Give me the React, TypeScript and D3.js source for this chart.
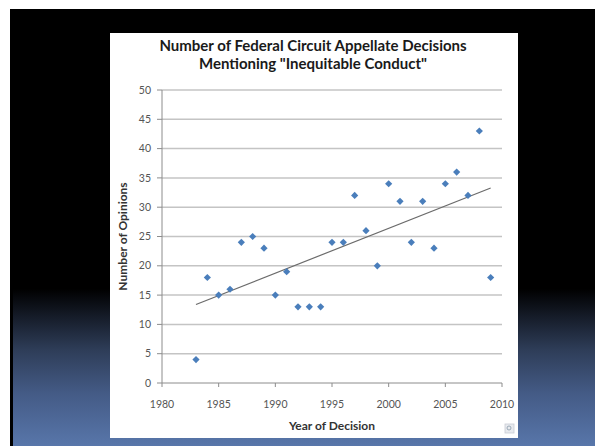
import React from "react";
import * as d3 from "d3";

const years = [1983, 1984, 1985, 1986, 1987, 1988, 1989, 1990, 1991, 1992, 1993, 1994, 1995, 1996, 1997, 1998, 1999, 2000, 2001, 2002, 2003, 2004, 2005, 2006, 2007, 2008, 2009];
const opinions = [4, 18, 15, 16, 24, 25, 23, 15, 19, 13, 13, 13, 24, 24, 32, 26, 20, 34, 31, 24, 31, 23, 34, 36, 32, 43, 18];
const xTicks = [1980, 1985, 1990, 1995, 2000, 2005, 2010];
const yTicks = [0, 5, 10, 15, 20, 25, 30, 35, 40, 45, 50];
const titleLines = ["Number of Federal Circuit Appellate Decisions", "Mentioning \"Inequitable Conduct\""];
const xTitle = "Year of Decision";
const yTitle = "Number of Opinions";

export default function App() {
  const W = 595, H = 446;
  const left = 162, right = 502, top = 90, bottom = 383;
  const x = d3.scaleLinear().domain([1980, 2010]).range([left, right]);
  const y = d3.scaleLinear().domain([0, 50]).range([bottom, top]);

  const mx = d3.mean(years)!;
  const my = d3.mean(opinions)!;
  let num = 0, den = 0;
  years.forEach((yr, i) => { num += (yr - mx) * (opinions[i] - my); den += (yr - mx) ** 2; });
  const slope = num / den;
  const icpt = my - slope * mx;
  const x0 = d3.min(years)!, x1 = d3.max(years)!;
  const trend = d3.line<number>().x(d => x(d)).y(d => y(icpt + slope * d))([x0, x1]);

  const diamond = d3.symbol().type(d3.symbolSquare).size(26)()!;
  const font = "Lato, 'Open Sans', sans-serif";

  return (
    <svg width={W} height={H} style={{ position: "absolute", left: 0, top: 0, display: "block" }}>
      <defs>
        <linearGradient id="bg" x1="0" y1="0" x2="0" y2="1">
          <stop offset="0" stopColor="#000" />
          <stop offset="0.64" stopColor="#000" />
          <stop offset="0.70" stopColor="#141a26" />
          <stop offset="0.78" stopColor="#2e3d58" />
          <stop offset="0.88" stopColor="#445b86" />
          <stop offset="1" stopColor="#5876aa" />
        </linearGradient>
      </defs>
      <rect x={0} y={0} width={W} height={H} fill="#fff" />
      <rect x={10} y={9} width={W - 10} height={H - 9} fill="url(#bg)" />
      <rect x={10} y={9} width={3} height={H - 9} fill="#000" />
      <rect x={110} y={33} width={408} height={405} fill="#fff" />

      {titleLines.map((t, i) => (
        <text key={i} x={313} y={51 + i * 18} textAnchor="middle" fontFamily={font} fontWeight="bold" fontSize={15} fill="#1a1a1a">{t}</text>
      ))}

      {yTicks.filter(v => v > 0).map(v => (
        <line key={"g" + v} x1={left} x2={right} y1={y(v)} y2={y(v)} stroke="#c4c4c4" strokeWidth={1.5} />
      ))}
      <line x1={left} x2={left} y1={top} y2={bottom} stroke="#8c8c8c" strokeWidth={1} />
      <line x1={left} x2={right} y1={bottom} y2={bottom} stroke="#8c8c8c" strokeWidth={1} />
      {yTicks.map(v => (
        <g key={"y" + v}>
          <line x1={left - 5} x2={left} y1={y(v)} y2={y(v)} stroke="#8c8c8c" />
          <text x={left - 11} y={y(v)} dy="0.35em" textAnchor="end" fontFamily={font} fontSize={10.5} fill="#555">{v}</text>
        </g>
      ))}
      {xTicks.map(v => (
        <g key={"x" + v}>
          <line x1={x(v)} x2={x(v)} y1={bottom} y2={bottom + 4} stroke="#8c8c8c" />
          <text x={x(v)} y={404} dy="0.35em" textAnchor="middle" fontFamily={font} fontSize={10.5} fill="#555">{v}</text>
        </g>
      ))}
      <text x={(left + right) / 2} y={426} dy="0.35em" textAnchor="middle" fontFamily={font} fontWeight="bold" fontSize={12} fill="#333">{xTitle}</text>
      <text transform={`translate(123,${(top + bottom) / 2}) rotate(-90)`} dy="0.35em" textAnchor="middle" fontFamily={font} fontWeight="bold" fontSize={12} fill="#333">{yTitle}</text>

      <path d={trend ?? ""} stroke="#6b6b6b" strokeWidth={1.2} fill="none" />
      {years.map((yr, i) => (
        <path key={yr} d={diamond} transform={`translate(${x(yr)},${y(opinions[i])}) rotate(45)`} fill="#4a7ebb" />
      ))}

      <rect x={505} y={424} width={9} height={9} fill="#e8eaee" stroke="#c8ccd4" strokeWidth={0.8} />
      <circle cx={509} cy={428} r={2} fill="none" stroke="#8899aa" strokeWidth={0.8} />
    </svg>
  );
}
